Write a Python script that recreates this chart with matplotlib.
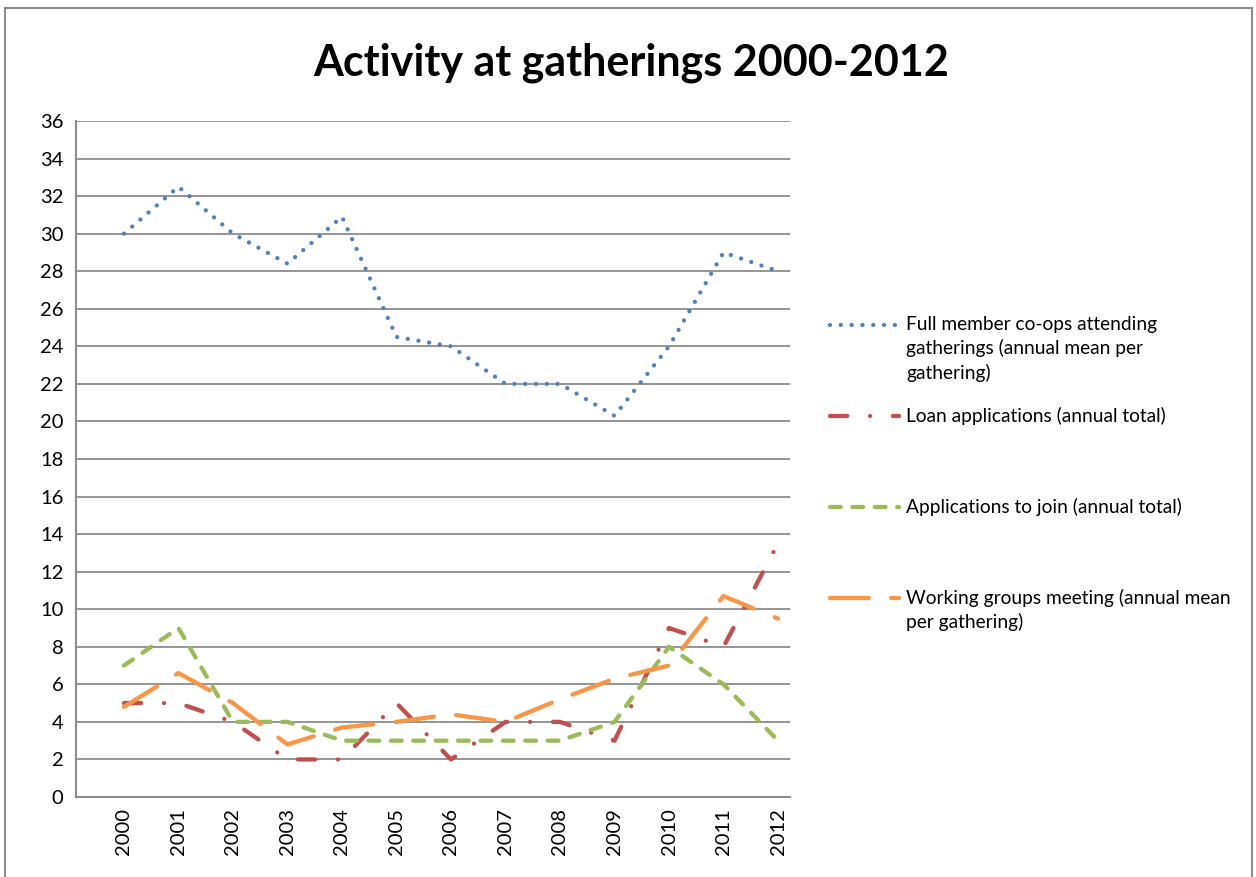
import matplotlib
matplotlib.use("Agg")
import matplotlib.pyplot as plt
from matplotlib.lines import Line2D
from matplotlib.patches import Rectangle

years = ["2000", "2001", "2002", "2003", "2004", "2005", "2006",
         "2007", "2008", "2009", "2010", "2011", "2012"]
full_members = [30, 32.5, 30, 28.4, 30.9, 24.5, 24, 22, 22, 20.3, 24, 29, 28]
loan_apps = [5, 5, 4, 2, 2, 5, 2, 4, 4, 3, 9, 8, 13.5]
join_apps = [7, 9, 4, 4, 3, 3, 3, 3, 3, 4, 8, 6, 3]
working_groups = [4.8, 6.6, 5.0, 2.8, 3.7, 4.0, 4.4, 4.0, 5.2, 6.3, 7.0, 10.7, 9.5]

labels = ["Full member co-ops attending\ngatherings (annual mean per\ngathering)",
          "Loan applications (annual total)",
          "Applications to join (annual total)",
          "Working groups meeting (annual mean\nper gathering)"]
colors = ["#4F81BD", "#C0504D", "#9BBB59", "#F79646"]
styles = [(0, (0.01, 2.5)), (0, (4.0, 5.3, 0.01, 5.3)), (0, (2.5, 2.7)), (0, (9.0, 5.2))]
series = [full_members, loan_apps, join_apps, working_groups]

FONT = ["Lato", "DejaVu Sans"]
plt.rcParams["font.family"] = FONT

W, H = 1256, 877
fig = plt.figure(figsize=(W / 100, H / 100), dpi=100)

def fx(px):
    return px / W

def fy(py):
    return 1 - py / H

# outer chart border
fig.add_artist(Rectangle((fx(5), fy(880)), fx(1252) - fx(5), fy(8) - fy(880),
                         transform=fig.transFigure, fill=False,
                         edgecolor="#8c8c8c", lw=1.5))

ax = fig.add_axes([fx(76), fy(797), fx(790) - fx(76), fy(121) - fy(797)])
x = list(range(len(years)))
lw = 3.1
for vals, c, ls in zip(series, colors, styles):
    ln, = ax.plot(x, vals, color=c, lw=lw, linestyle=ls)
    ln.set_dash_capstyle("round")

ax.set_ylim(0, 36)
ax.set_yticks(range(0, 37, 2))
ax.set_xlim(-0.88, 12.22)
ax.set_xticks(x)
ax.set_xticklabels(years, rotation=90, fontsize=14.5)
ax.tick_params(axis="y", labelsize=14.5, length=0, pad=9)
ax.tick_params(axis="x", length=0, pad=8)
ax.grid(axis="y", color="#8c8c8c", lw=1.3)
ax.set_axisbelow(True)
for s in ["top", "right"]:
    ax.spines[s].set_visible(False)
for s in ["left", "bottom"]:
    ax.spines[s].set_color("#8c8c8c")
    ax.spines[s].set_linewidth(1.5)

fig.text(fx(631), fy(63), "Activity at gatherings 2000-2012", ha="center",
         va="center", fontsize=31, fontweight="bold")

# legend
legend_y = [325, 416, 507, 598]
for lab, c, ls, yy in zip(labels, colors, styles, legend_y):
    l = Line2D([fx(830), fx(899)], [fy(yy), fy(yy)], transform=fig.transFigure,
               color=c, lw=lw, linestyle=ls)
    l.set_dash_capstyle("round")
    fig.add_artist(l)
    fig.text(fx(906), fy(yy - 9), lab, ha="left", va="top", fontsize=13.8,
             linespacing=1.42)

fig.savefig("out.png", dpi=100)
